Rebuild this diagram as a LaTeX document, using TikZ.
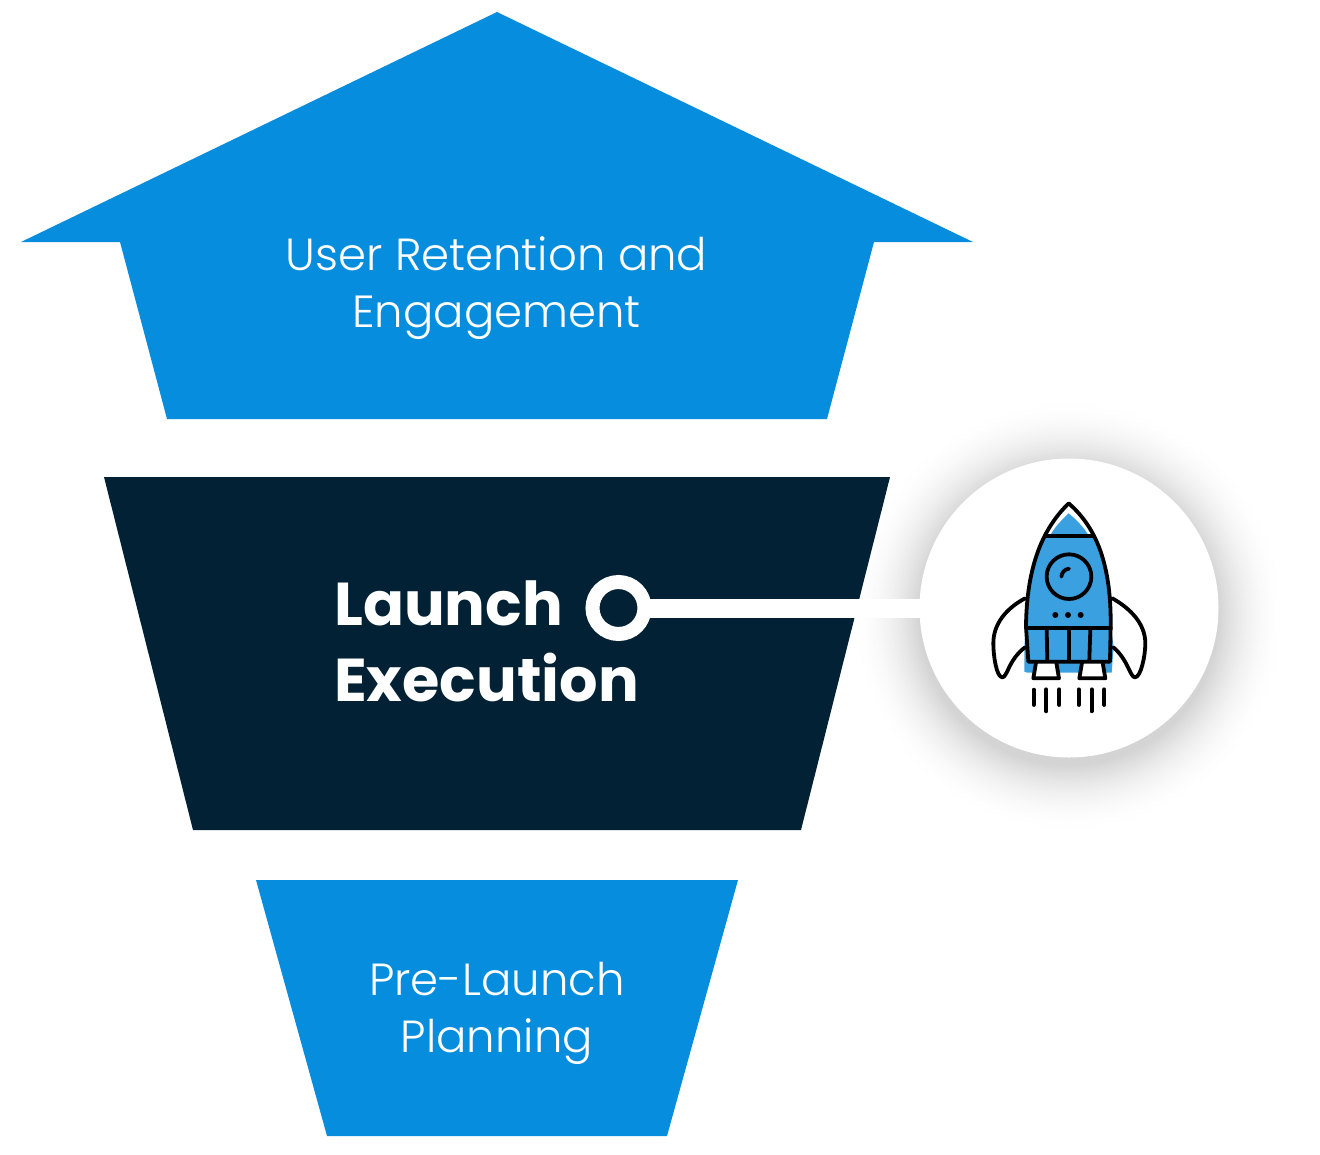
\documentclass[tikz,border=0pt]{standalone}
\usepackage{fontspec}
\setmainfont{Poppins}
\newfontfamily\lightf{Poppins Light}
\newfontfamily\boldf{Poppins Bold}
\usetikzlibrary{calc}
\definecolor{fblue}{HTML}{078DDE}
\definecolor{fdark}{HTML}{022135}
\definecolor{rblue}{HTML}{3AA0E0}
\tikzset{
  x=1pt,y=-1pt,
  lighttext/.style={text=white,align=center,inner sep=0pt,font=\lightf\fontsize{45}{57}\selectfont},
  boldtext/.style={text=white,align=left,inner sep=0pt,font=\boldf\fontsize{60.5}{76}\selectfont},
  rline/.style={draw=black,line cap=round,line join=round},
}
\begin{document}
\begin{tikzpicture}
\useasboundingbox (0,0) rectangle (1320,1154);
% shadow
\foreach \i in {0,...,40}{
  \pgfmathsetmacro{\r}{218-\i*1.7}
  \pgfmathsetmacro{\g}{\i*\i/1600*17}
  \fill[black!\g!white] (1069,616) circle (\r);
}
% bands
\fill[fblue] (497,12) -- (973,242) -- (874,242) -- (827,419) -- (167,419) -- (120,242) -- (21,242) -- cycle;
\fill[fdark] (104,477) -- (890,477) -- (801,830) -- (193,830) -- cycle;
\fill[fblue] (256,880) -- (738,880) -- (667,1136) -- (327,1136) -- cycle;
% labels
\node[lighttext] (top) at (496.5,288) {User Retention and\\Engagement};
\node[lighttext] (bottom) at (497,1013) {Pre-Launch\\Planning};
\node[boldtext,anchor=west] (mid) at (334,641) {Launch\\Execution};
% callout
\node[circle,fill=white,minimum size=299pt,inner sep=0pt] (disc) at (1069,608) {};
\node[circle,draw=white,line width=14pt,minimum size=52pt,inner sep=0pt] (ring) at (618.5,608) {};
\draw[white,line width=19pt,shorten <=-4pt,shorten >=-2pt] (ring.east) -- (disc.west);
% rocket
\begin{scope}[shift={(970,490)},xscale=0.3333,yscale=0.3333]
  \fill[rblue] (226,137) .. controls (195,195) and (166,280) .. (168,410) -- (163,470) -- (163,545) -- (172,548) -- (425,548) -- (431,470) -- (422,410) .. controls (425,280) and (395,195) .. (368,137) -- cycle;
  \fill[rblue] (296,70) .. controls (275,90) and (255,110) .. (240,137) -- (356,137) .. controls (340,110) and (320,90) .. (296,70) -- cycle;
  \fill[white] (192,520) rectangle (265,565);
  \fill[white] (330,520) rectangle (405,565);
  \begin{scope}[rline,line width=3.8pt]
    \draw (296,40) .. controls (235,100) and (170,200) .. (168,410) -- (175,515) -- (420,515) -- (422,410) .. controls (425,200) and (365,100) .. (296,40) -- cycle;
    \draw (226,137) -- (368,137);
    \draw (168,414) -- (422,414);
    \draw (297,260) circle (67);
    \draw (274,260) .. controls (276,246) and (284,238) .. (297,236);
    \draw (230,418) -- (232,512);
    \draw (296,418) -- (296,512);
    \draw (361,418) -- (358,512);
    \draw (198,518) -- (190,565) -- (267,565) -- (259,518);
    \draw (336,518) -- (328,565) -- (406,565) -- (398,518);
    \draw (165,325) .. controls (110,355) and (70,400) .. (70,460) .. controls (70,500) and (80,562) .. (97,562) .. controls (112,562) and (115,510) .. (165,472);
    \draw (427,325) .. controls (480,355) and (526,400) .. (526,460) .. controls (526,500) and (512,562) .. (495,562) .. controls (480,562) and (475,510) .. (430,472);
    \draw (191,599) -- (191,645);
    \draw (229,598) -- (229,664);
    \draw (268,598) -- (268,645);
    \draw (326,598) -- (326,645);
    \draw (365,598) -- (365,664);
    \draw (403,598) -- (403,645);
  \end{scope}
  \fill (256,375) circle (9);
  \fill (294,375) circle (9);
  \fill (332,375) circle (9);
\end{scope}
\end{tikzpicture}
\end{document}
